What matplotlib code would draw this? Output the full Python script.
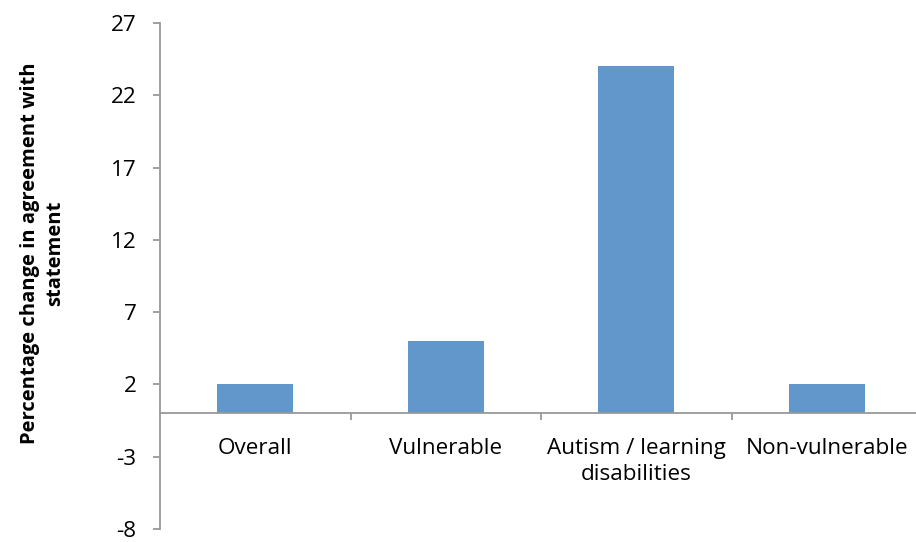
import matplotlib
matplotlib.use("Agg")
import matplotlib.pyplot as plt
import numpy as np

categories = ["Overall", "Vulnerable", "Autism / learning\ndisabilities", "Non-vulnerable"]
values = [2, 5, 24, 2]
y_ticks = [-8, -3, 2, 7, 12, 17, 22, 27]

plt.rcParams['font.family'] = ['Open Sans', 'DejaVu Sans']

fig = plt.figure(figsize=(9.16, 5.42), dpi=100)
# right edge of the plot runs past the figure, as in the reference
ax = fig.add_axes([160 / 916, (542 - 529) / 542, 762 / 916, 506 / 542])

x = np.arange(len(categories))
ax.bar(x, values, width=0.4, color="#6197CA", zorder=2)

ax.set_xlim(-0.5, len(categories) - 0.5)
ax.set_ylim(-8, 27)
ax.set_yticks(y_ticks)
ax.set_yticklabels([str(v) for v in y_ticks])

grey = "#999999"
ax.spines['top'].set_visible(False)
ax.spines['right'].set_visible(False)
ax.spines['bottom'].set_position(('data', 0))
for s in ['left', 'bottom']:
    ax.spines[s].set_color(grey)
    ax.spines[s].set_linewidth(1.3)

ax.set_xticks(x)
ax.set_xticklabels(categories, fontsize=16.2, linespacing=1.3)
ax.set_xticks(np.arange(0.5, len(categories) - 0.5), minor=True)
ax.tick_params(axis='x', which='major', length=0, pad=18, labelcolor='black')
ax.tick_params(axis='x', which='minor', length=5, width=1.3, color=grey, direction='out')
ax.tick_params(axis='y', length=5, width=1.3, color=grey, labelsize=16.2, pad=12)

ax.set_ylabel("Percentage change in agreement with\nstatement", fontsize=14.5,
              fontweight='bold', linespacing=1.35)
ax.yaxis.set_label_coords(-0.124, 0.545)

fig.savefig("out.png", dpi=100)
